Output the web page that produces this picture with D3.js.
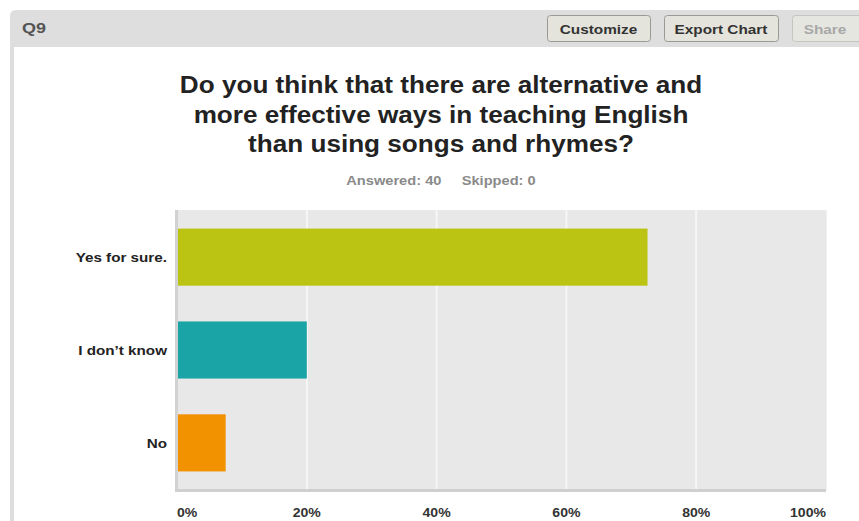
<!DOCTYPE html>
<html>
<head>
<meta charset="utf-8">
<script src="https://cdn.jsdelivr.net/npm/d3@7"></script>
<style>
  html, body { margin: 0; padding: 0; background: #fff; }
  svg { display: block; font-family: "Liberation Sans", Arial, sans-serif; }
</style>
</head>
<body>
<svg id="chart" width="859" height="521"></svg>
<script>
// Survey question Q9 responses
const categories = ["Yes for sure.", "I don\u2019t know", "No"];
const percentValues = [72.5, 20, 7.5];
const barColors = ["#bbc313", "#1ba4a6", "#f39200"];
const tickValues = [0, 20, 40, 60, 80, 100];
const titleLines = [
  "Do you think that there are alternative and",
  "more effective ways in teaching English",
  "than using songs and rhymes?"
];
const answered = 40;
const skipped = 0;
const buttons = ["Customize", "Export Chart", "Share"];

const svg = d3.select("#chart");

// Widen glyphs horizontally by a factor, keeping the anchor point
function widen(sel, factor) {
  sel.each(function () {
    const w = this.getComputedTextLength();
    d3.select(this).attr("textLength", w * factor).attr("lengthAdjust", "spacingAndGlyphs");
  });
  return sel;
}

// Header frame
svg.append("path")
  .attr("d", "M10,521 L10,16 Q10,10 16,10 L859,10 L859,47 L14,47 L14,521 Z")
  .attr("fill", "#dedede");
svg.append("rect").attr("x", 14).attr("y", 47).attr("width", 845).attr("height", 474).attr("fill", "#fff");

widen(svg.append("text").attr("x", 22).attr("y", 33)
  .attr("font-size", 15).attr("font-weight", "bold").attr("fill", "#555")
  .text("Q9"), 1.2);

// Toolbar buttons: [left, width, label centre]
const btnBoxes = [[547, 103, 598.5], [664, 114, 721], [792, 80, 825]];
buttons.forEach((label, i) => {
  const [bx, bw, cx] = btnBoxes[i];
  const disabled = label === "Share";
  svg.append("rect").attr("x", bx + 0.5).attr("y", 15.5).attr("width", bw).attr("height", 26)
    .attr("rx", 3).attr("fill", disabled ? "#e6e6e0" : "#e4e4dc")
    .attr("stroke", disabled ? "#c4c4c0" : "#9a9a94");
  widen(svg.append("text").attr("x", cx).attr("y", 33.5)
    .attr("text-anchor", "middle").attr("font-size", 13).attr("font-weight", "bold")
    .attr("fill", disabled ? "#a8a8a8" : "#333")
    .text(label), 1.18);
});

// Title
widen(svg.append("g").selectAll("text").data(titleLines).join("text")
  .attr("x", 441).attr("y", (d, i) => 93 + i * 29.5)
  .attr("text-anchor", "middle").attr("font-size", 23).attr("font-weight", "bold")
  .attr("fill", "#222").text(d => d), 1.135);

widen(svg.append("text").attr("x", 441).attr("y", 185)
  .attr("text-anchor", "middle").attr("font-size", 12.5).attr("font-weight", "bold")
  .attr("fill", "#8a8a8a").attr("xml:space", "preserve")
  .text(`Answered: ${answered}     Skipped: ${skipped}`), 1.17);

// Plot area
const plot = { left: 177, right: 826, top: 210, bottom: 490 };
const x = d3.scaleLinear().domain([0, 100]).range([plot.left, plot.right]);
const y = d3.scaleBand().domain(categories).range([plot.top, plot.bottom]).paddingInner(0.385).paddingOuter(0.2);

svg.append("rect").attr("x", plot.left).attr("y", plot.top)
  .attr("width", plot.right - plot.left).attr("height", plot.bottom - plot.top)
  .attr("fill", "#e8e8e8");

svg.append("g").selectAll("line").data(tickValues.slice(1, -1)).join("line")
  .attr("x1", d => x(d)).attr("x2", d => x(d))
  .attr("y1", plot.top).attr("y2", plot.bottom)
  .attr("stroke", "#f6f6f6").attr("stroke-width", 2);

svg.append("g").selectAll("rect").data(categories).join("rect")
  .attr("x", x(0)).attr("y", d => y(d))
  .attr("width", (d, i) => x(percentValues[i]) - x(0))
  .attr("height", y.bandwidth())
  .attr("fill", (d, i) => barColors[i]);

// Axis lines
svg.append("line").attr("x1", plot.left - 0.5).attr("x2", plot.left - 0.5)
  .attr("y1", plot.top).attr("y2", plot.bottom + 1)
  .attr("stroke", "#d2d2d2").attr("stroke-width", 3);
svg.append("line").attr("x1", plot.left - 2).attr("x2", plot.right)
  .attr("y1", plot.bottom + 0.5).attr("y2", plot.bottom + 0.5)
  .attr("stroke", "#cfcfcf").attr("stroke-width", 3);
svg.append("line").attr("x1", plot.right + 0.5).attr("x2", plot.right + 0.5)
  .attr("y1", plot.top).attr("y2", plot.bottom)
  .attr("stroke", "#f0f0f0").attr("stroke-width", 1);

// Category labels
widen(svg.append("g").selectAll("text").data(categories).join("text")
  .attr("x", 167).attr("y", d => y(d) + y.bandwidth() / 2 + 5)
  .attr("text-anchor", "end").attr("font-size", 13).attr("font-weight", "bold")
  .attr("fill", "#222").text(d => d), 1.17);

// Tick labels
widen(svg.append("g").selectAll("text").data(tickValues).join("text")
  .attr("x", d => x(d))
  .attr("y", 517)
  .attr("text-anchor", (d, i) => i === 0 ? "start" : i === tickValues.length - 1 ? "end" : "middle")
  .attr("font-size", 12).attr("font-weight", "bold").attr("fill", "#333")
  .text(d => d + "%"), 1.17);
</script>
</body>
</html>
